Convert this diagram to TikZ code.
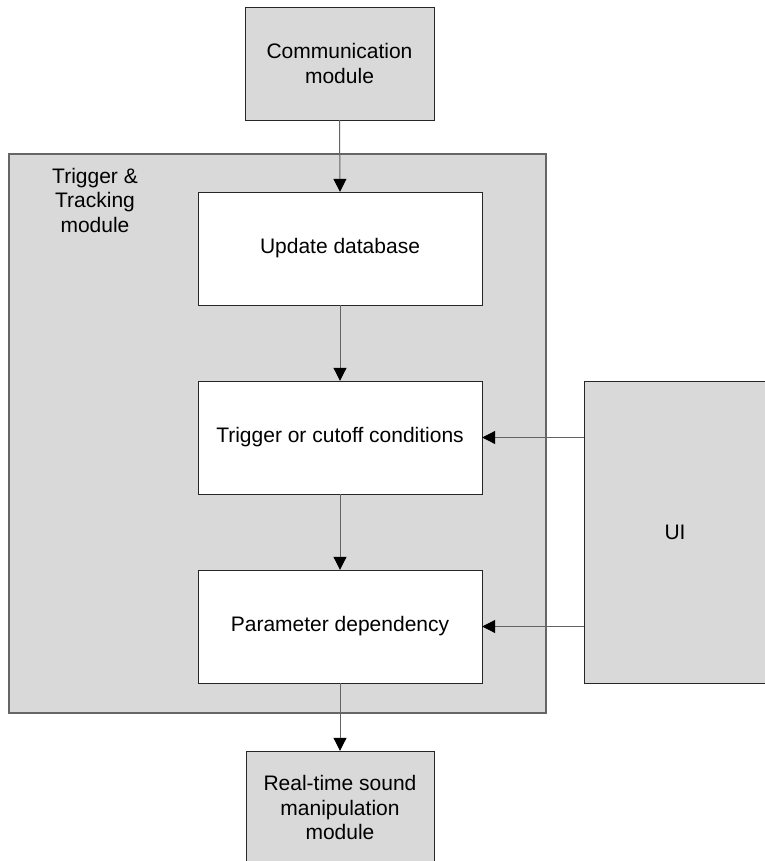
\documentclass[tikz,border=0pt]{standalone}
\usepackage{fontspec}
\setmainfont{Liberation Sans}
\usepackage{xcolor}
\usetikzlibrary{arrows.meta,positioning}

\definecolor{boxgray}{RGB}{217,217,217}
\definecolor{linegray}{RGB}{100,100,100}

\begin{document}
\begin{tikzpicture}[x=1pt,y=-1pt,
  font=\fontsize{21}{24.5}\selectfont,
  >={Triangle[length=13pt,width=13pt]},
  mod/.style={draw=black!85,fill=boxgray,align=center,inner sep=0pt},
  stepbox/.style={draw=black!85,fill=white,align=center,minimum width=284pt,minimum height=113pt,inner sep=0pt},
  flow/.style={->,draw=linegray,line width=1pt,arrows={-Triangle[length=13pt,width=13pt,fill=black,color=black]}}]
  \useasboundingbox (0,0) rectangle (764,861);
  % outer trigger & tracking module
  \node[draw=black!60,line width=1.3pt,fill=boxgray,minimum width=537pt,minimum height=559pt] (trk) at (277.5,433.5) {};
  \node[align=center] (trklbl) at (95,200) {Trigger \&\\Tracking\\module};
  \node[mod,minimum width=189pt,minimum height=113pt] (comm) at (339.5,63.5) {Communication\\module};
  \node[stepbox] (upd) at (340,248.5) {Update database};
  \node[stepbox] (trig) at (340,437.5) {Trigger or cutoff conditions};
  \node[stepbox] (par) at (340,626.5) {Parameter dependency};
  \node[mod,minimum width=182pt,minimum height=302pt] (ui) at (675,532) {UI};
  \node[mod,minimum width=188pt,minimum height=113pt] (snd) at (340,807.5) {Real-time sound\\manipulation\\module};
  % connectors
  \draw[flow] (comm.south) -- (upd.north);
  \draw[flow] (upd.south) -- (trig.north);
  \draw[flow] (trig.south) -- (par.north);
  \draw[flow] (par.south) -- (snd.north);
  \draw[flow] (ui.west |- trig.east) -- (trig.east);
  \draw[flow] (ui.west |- par.east) -- (par.east);
\end{tikzpicture}
\end{document}
